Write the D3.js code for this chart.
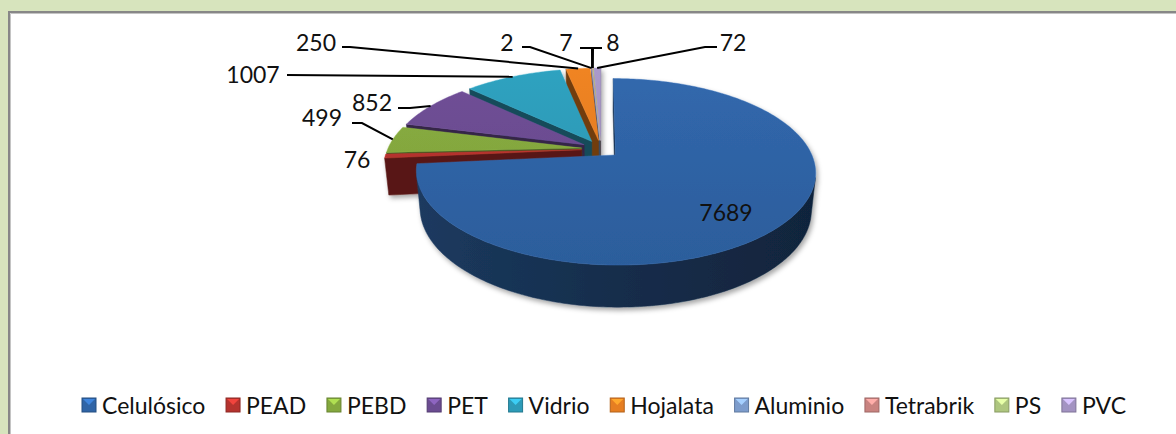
<!DOCTYPE html>
<html><head><meta charset="utf-8">
<script src="https://cdn.jsdelivr.net/npm/d3@7"></script>
<style>body{margin:0;background:#d7e4bd;} svg{display:block}</style>
</head><body>
<svg id="c" width="1176" height="434"></svg>
<script>
// ---- data ----
const categories = ["Celulósico","PEAD","PEBD","PET","Vidrio","Hojalata","Aluminio","Tetrabrik","PS","PVC"];
const values = [7689,76,499,852,1007,250,2,7,8,72];
const labelTexts = values.map(String);
const sliceColors = ["#2f64a6","#b5332e","#84a83e","#6b4c91","#2d9bb8","#e67e22","#7d9ccc","#c98380","#aec67f","#a393c2"];

// ---- layout ----
const W = 1176, H = 434;
const cx = 601, cy = 149, K = 194, phi = 27*Math.PI/180, Dist = 5, HT = 0.215, EXP = 0.1;
const labelPos = [[726,212],[357,159],[322,117],[372,102],[253,74],[316,42],[507,42],[566,42],[613,42],[733,42]];
const leaderStart = [null,null,[352,123],[398,108],[287,75],[342,47],[522,47],[580,48],[602,48],[717,47]];
const leaderElbow = [null,null,[362,123],[410,108],null,[350,47],[530,47],[592,48],[593,48],[705,47]];
const FONT = "Lato, 'Open Sans', sans-serif";

const svg = d3.select("#c");
const defs = svg.append("defs");
svg.append("rect").attr("width",W).attr("height",H).attr("fill","#d7e4bd");
svg.append("rect").attr("x",9).attr("y",12).attr("width",W+20).attr("height",H+20)
  .attr("fill","#fff").attr("stroke","#878787").attr("stroke-width",2);
svg.append("path").attr("d",`M10.5,${H}V13.5H${W}`).attr("fill","none").attr("stroke","#c4c4c4").attr("stroke-width",1);

const f = defs.append("filter").attr("id","sh").attr("x","-10%").attr("y","-10%").attr("width","130%").attr("height","140%");
f.append("feDropShadow").attr("dx",2).attr("dy",3).attr("stdDeviation",2.5).attr("flood-color","#000").attr("flood-opacity",0.35);

function proj(x,z,y){
  const v = y*Math.cos(phi) - z*Math.sin(phi);
  const c = z*Math.cos(phi) + y*Math.sin(phi);
  const s = 1/(1 - c/Dist);
  return [cx + K*x*s, cy - K*v*s, c];
}
const arcs = d3.pie().sort(null).value(d=>d)(values);
function area(p){let s=0;for(let k=0;k<p.length;k++){const q=p[(k+1)%p.length];s+=p[k][0]*q[1]-q[0]*p[k][1];}return s;}
const depth = p=>d3.mean(p,d=>d[2]);

const faces = [], tops = [], anchors = [];
arcs.forEach((s,i)=>{
  const a0=s.startAngle, a1=s.endAngle, mid=(a0+a1)/2;
  const ox=EXP*Math.sin(mid), oz=-EXP*Math.cos(mid);
  const P=(a,r,y)=>proj(ox+r*Math.sin(a), oz-r*Math.cos(a), y);
  const n=Math.max(2,Math.ceil((a1-a0)/(Math.PI/180)));
  const angs=d3.range(n+1).map(k=>a0+(a1-a0)*k/n);
  tops.push({i, pts:[P(0,0,0), ...angs.map(a=>P(a,1,0))]});
  let run=null;
  for(let k=0;k<n;k++){
    const q=[P(angs[k],1,0),P(angs[k+1],1,0),P(angs[k+1],1,-HT),P(angs[k],1,-HT)];
    if(area(q)<0){
      if(!run){run={i,kind:"outer",topPts:[q[0]],botPts:[q[3]]};}
      run.topPts.push(q[1]); run.botPts.push(q[2]);
    } else if(run){ run.pts=[...run.topPts,...run.botPts.reverse()]; faces.push(run); run=null; }
  }
  if(run){ run.pts=[...run.topPts,...run.botPts.reverse()]; faces.push(run); }
  const sw=[P(0,0,0),P(a0,1,0),P(a0,1,-HT),P(0,0,-HT)];
  const ew=[P(a1,1,0),P(0,0,0),P(0,0,-HT),P(a1,1,-HT)];
  if(area(sw)<0) faces.push({i,kind:"radial",pts:sw});
  if(area(ew)<0) faces.push({i,kind:"radial",pts:ew});
  anchors.push(P(mid,1,0));
});
faces.sort((a,b)=>depth(a.pts)-depth(b.pts));
const line = d3.line().x(d=>d[0]).y(d=>d[1]);

sliceColors.forEach((c,i)=>{
  const g=defs.append("linearGradient").attr("id","tg"+i).attr("gradientUnits","userSpaceOnUse")
    .attr("x1",0).attr("y1",70).attr("x2",0).attr("y2",270);
  g.append("stop").attr("offset",0).attr("stop-color",d3.color(c).brighter(0.12));
  g.append("stop").attr("offset",1).attr("stop-color",d3.color(c).darker(0.2));
  const w=defs.append("linearGradient").attr("id","wg"+i).attr("gradientUnits","userSpaceOnUse")
    .attr("x1",cx-K*1.1).attr("y1",0).attr("x2",cx+K*1.1).attr("y2",0);
  d3.range(0,1.0001,0.25).forEach(t=>{
    w.append("stop").attr("offset",t).attr("stop-color",d3.color(c).darker(1.45+1.4*t));
  });
});

const pieG = svg.append("g").attr("filter","url(#sh)");
pieG.selectAll("path.wall").data(faces).join("path").attr("class","wall")
  .attr("d",d=>line(d.pts)+"Z")
  .attr("fill",d=> d.kind==="outer" ? `url(#wg${d.i})` : d3.color(sliceColors[d.i]).darker(2.0))
  .attr("stroke",d=> d.kind==="outer" ? `url(#wg${d.i})` : d3.color(sliceColors[d.i]).darker(2.0))
  .attr("stroke-width",0.5);
pieG.selectAll("path.top").data(tops.sort((a,b)=>depth(a.pts)-depth(b.pts))).join("path").attr("class","top")
  .attr("d",d=>line(d.pts)+"Z")
  .attr("fill",d=>`url(#tg${d.i})`)
  .attr("stroke",d=>d3.color(sliceColors[d.i]).brighter(0.3)).attr("stroke-width",0.6).attr("stroke-opacity",0.7);

const ll = svg.append("g");
values.forEach((v,i)=>{
  if(!leaderStart[i]) return;
  const pts=[leaderStart[i]];
  if(leaderElbow[i]) pts.push(leaderElbow[i]);
  pts.push([anchors[i][0],anchors[i][1]]);
  ll.append("path").attr("d",line(pts)).attr("fill","none").attr("stroke","#000").attr("stroke-width",2);
});
svg.append("g").selectAll("text").data(labelTexts).join("text")
  .attr("x",(d,i)=>labelPos[i][0]).attr("y",(d,i)=>labelPos[i][1])
  .attr("text-anchor","middle").attr("dominant-baseline","central")
  .attr("font-family",FONT).attr("font-size",23).attr("fill","#111").text(d=>d);

const lg = svg.append("g");
const items = lg.selectAll("g").data(categories).join("g");
items.append("text").attr("font-family",FONT).attr("font-size",23).attr("fill","#111")
  .attr("dominant-baseline","central").attr("y",405).text(d=>d);
const widths = items.nodes().map(n=>n.querySelector("text").getComputedTextLength());
const M=14, GAP=6, startX=82, endX=1126;
const gap = (endX-startX - d3.sum(widths) - categories.length*(M+GAP))/(categories.length-1);
let x=startX;
items.each(function(d,i){
  const g=d3.select(this);
  const c=d3.color(sliceColors[i]);
  g.insert("rect","text").attr("x",x).attr("y",398).attr("width",M).attr("height",M)
    .attr("fill",c).attr("stroke",c.darker(0.7)).attr("stroke-width",1);
  g.insert("path","text").attr("d",`M${x+1},399L${x+M-1},399L${x+M/2},${398+M/2}Z`).attr("fill",c.brighter(0.8));
  g.select("text").attr("x",x+M+GAP);
  x += M+GAP+widths[i]+gap;
});
</script>
</body></html>
